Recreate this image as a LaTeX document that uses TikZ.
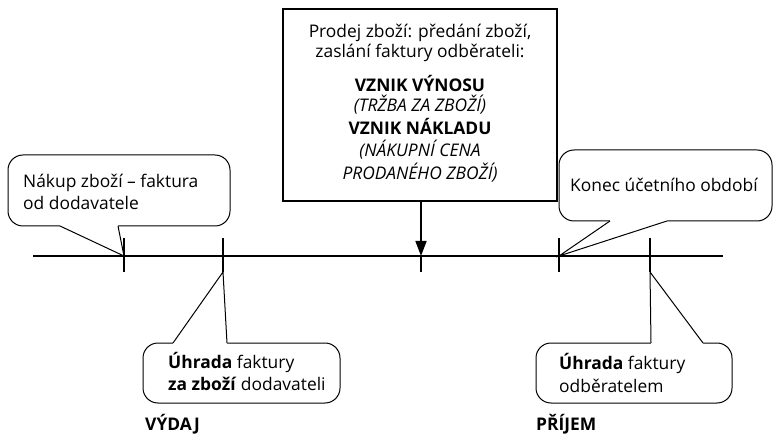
\documentclass[tikz,border=0pt]{standalone}
\usepackage{fontspec}
\setmainfont{Open Sans}
\usetikzlibrary{arrows.meta}
\newcommand\fsz{\fontsize{17.4}{20}\selectfont}
\begin{document}
\begin{tikzpicture}[x=1pt,y=-1pt,
  txt/.style={inner sep=0pt,anchor=base west,font=\fsz},
  ctxt/.style={inner sep=0pt,anchor=base,font=\fsz},
  axis/.style={line width=2pt},
  tickmark/.style={line width=2pt},
  callout/.style={draw,line width=1pt,rounded corners=15pt,inner sep=0pt},
  pointer/.style={line width=1pt,line join=miter},
  eventbox/.style={draw,line width=1.2pt,inner sep=0pt}]
\useasboundingbox (0,0) rectangle (773,435);
% timeline
\coordinate (L) at (33,256);
\coordinate (R) at (723,256);
\draw[axis] (L) -- (R);
\coordinate (t1) at (124,256); \coordinate (t1u) at (124,238); \coordinate (t1d) at (124,272);
\coordinate (t2) at (223,256); \coordinate (t2u) at (223,238); \coordinate (t2d) at (223,272);
\coordinate (t3) at (421,256); \coordinate (t3d) at (421,272);
\coordinate (t4) at (559,256); \coordinate (t4u) at (559,238); \coordinate (t4d) at (559,272);
\coordinate (t5) at (650,256); \coordinate (t5u) at (650,238); \coordinate (t5d) at (650,272);
\draw[tickmark] (t1u) -- (t1d);
\draw[tickmark] (t2u) -- (t2d);
\draw[tickmark] (t3) -- (t3d);
\draw[tickmark] (t4u) -- (t4d);
\draw[tickmark] (t5u) -- (t5d);
% central box
\node[eventbox,minimum width=274pt,minimum height=192pt] (box) at (420,105) {};
\node[ctxt] (b1) at (420,38) {Prodej zboží: předání zboží,};
\node[ctxt] (b2) at (420,58) {zaslání faktury odběrateli:};
\node[ctxt,font=\fsz\bfseries] (b3) at (420,92) {VZNIK VÝNOSU};
\node[ctxt,font=\fsz\itshape] (b4) at (420,112) {(TRŽBA ZA ZBOŽÍ)};
\node[ctxt,font=\fsz\bfseries] (b5) at (420,135) {VZNIK NÁKLADU};
\node[ctxt,font=\fsz\itshape] (b6) at (420,157) {(NÁKUPNÍ CENA};
\node[ctxt,font=\fsz\itshape] (b7) at (420,180) {PRODANÉHO ZBOŽÍ)};
\draw[line width=1.6pt,-{Triangle[length=15pt,width=11pt]}] (box.south -| t3) -- (t3);
% callout 1 (top left)
\node[callout,minimum width=222pt,minimum height=71pt] (c1) at (119,190.5) {};
\fill[white] (60,224) -- (60,226.5) -- (t1) -- (118,226.5) -- (118,224) -- cycle;
\draw[pointer] (60,226) -- (t1) -- (118,226);
\node[txt] (c1a) at (23,188) {Nákup zboží – faktura};
\node[txt] (c1b) at (23,210) {od dodavatele};
% callout 2 (top right)
\node[callout,minimum width=213pt,minimum height=71pt] (c2) at (665.5,185.5) {};
\fill[white] (610,219) -- (610,221.5) -- (t4) -- (667,221.5) -- (667,219) -- cycle;
\draw[pointer] (610,221) -- (t4) -- (667,221);
\node[txt] (c2a) at (570,192) {Konec účetního období};
% callout 3 (bottom left)
\node[callout,minimum width=197pt,minimum height=60pt] (c3) at (241.5,373) {};
\fill[white] (173,345) -- (173,342.5) -- (t2d) -- (227,342.5) -- (227,345) -- cycle;
\draw[pointer] (173,343) -- (t2d) -- (227,343);
\node[txt] (c3a) at (168,368) {\textbf{Úhrada} faktury};
\node[txt] (c3b) at (168,390) {\textbf{za zboží} dodavateli};
% callout 4 (bottom right)
\node[callout,minimum width=196pt,minimum height=60pt] (c4) at (634,373) {};
\fill[white] (651,345) -- (651,342.5) -- (t5d) -- (703,342.5) -- (703,345) -- cycle;
\draw[pointer] (651,343) -- (t5d) -- (703,343);
\node[txt] (c4a) at (559,369) {\textbf{Úhrada} faktury};
\node[txt] (c4b) at (559,392) {odběratelem};
% labels
\node[txt,font=\fsz\bfseries] (vy) at (145,430) {VÝDAJ};
\node[txt,font=\fsz\bfseries] (pr) at (536,430) {PŘÍJEM};
\end{tikzpicture}
\end{document}
